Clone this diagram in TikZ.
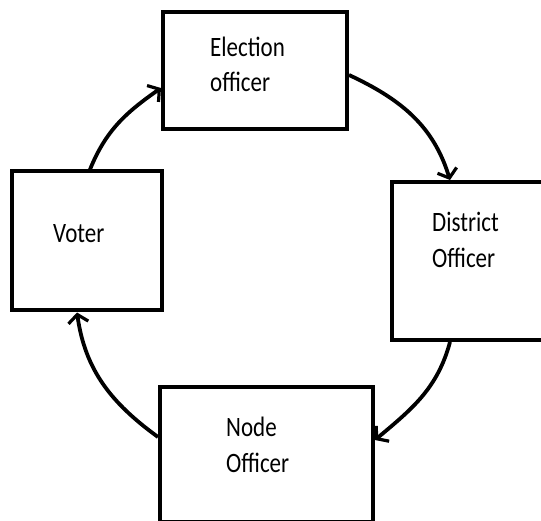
\documentclass[tikz,border=0pt]{standalone}
\usepackage{fontspec}
\setmainfont{Carlito}
\usetikzlibrary{arrows.meta}
\newcommand{\tallt}[1]{\scalebox{1}[1.22]{#1}}
\begin{document}
\begin{tikzpicture}[x=1pt,y=1pt,
  box/.style={draw=black,line width=4pt,fill=white,inner sep=0pt},
  lbl/.style={anchor=base west,inner sep=0pt,font=\fontsize{23}{23}\selectfont},
  conn/.style={line width=3.8pt,-{Straight Barb[length=8pt,width=20pt,line width=3.2pt]}}]
\useasboundingbox (0,0) rectangle (541,520);
\begin{scope}
\clip (0,0) rectangle (541,520);
\node[box,minimum width=184pt,minimum height=117pt] (el) at (255,449) {};
\node[box,minimum width=156pt,minimum height=158pt] (di) at (470,259) {};
\node[box,minimum width=150pt,minimum height=139pt] (vo) at (87,279) {};
\node[box,minimum width=213pt,minimum height=135pt] (no) at (266.5,65.5) {};
\end{scope}
\node[lbl] (el1) at (210,463) {\tallt{Election}};
\node[lbl] (el2) at (210,428) {\tallt{officer}};
\node[lbl] (di1) at (432,288) {\tallt{District}};
\node[lbl] (di2) at (432,252) {\tallt{Officer}};
\node[lbl] (vo1) at (53,277) {\tallt{Voter}};
\node[lbl] (no1) at (226,84) {\tallt{Node}};
\node[lbl] (no2) at (226,48) {\tallt{Officer}};
\draw[conn] ([xshift=3pt]vo.north) to[out=68,in=215] ([yshift=-17pt]el.west);
\draw[conn] ([yshift=-4pt]el.east) to[out=-25,in=107] ([xshift=-20pt]di.north);
\draw[conn] ([xshift=-20pt]di.south) to[out=-105,in=40] ([yshift=14.5pt]no.east);
\draw[conn] ([yshift=17.5pt]no.west) to[out=144,in=-82] ([xshift=-10pt]vo.south);
\end{tikzpicture}
\end{document}
